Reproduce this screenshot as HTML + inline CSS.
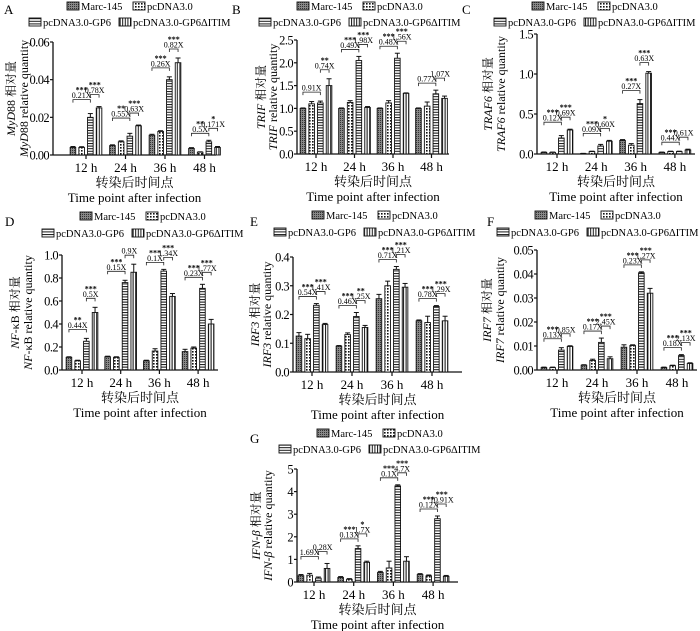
<!DOCTYPE html>
<html><head><meta charset="utf-8">
<style>
html,body{margin:0;padding:0;background:#fff;}
svg{display:block;font-family:"Liberation Serif","Noto Serif CJK SC","Noto Sans CJK SC",serif;}
</style></head>
<body>
<svg id="fig" width="700" height="631" viewBox="0 0 700 631">
<defs>
<pattern id="p0" width="2" height="2" patternUnits="userSpaceOnUse"><rect width="2" height="2" fill="#888"/><rect width="1" height="1" fill="#333"/></pattern>
<pattern id="p1" width="3" height="3" patternUnits="userSpaceOnUse"><rect width="3" height="3" fill="#fff"/><rect width="1.6" height="1.6" fill="#111"/></pattern>
<pattern id="p2" width="4" height="2.6" patternUnits="userSpaceOnUse"><rect width="4" height="2.6" fill="#fff"/><rect width="4" height="1" fill="#111"/></pattern>
<pattern id="p3" width="2.6" height="4" patternUnits="userSpaceOnUse"><rect width="2.6" height="4" fill="#fff"/><rect width="1" height="4" fill="#111"/></pattern>
</defs>
</svg>
<script>
const categories = ["12 h","24 h","36 h","48 h"];
const seriesNames = ["Marc-145","pcDNA3.0","pcDNA3.0-GP6","pcDNA3.0-GP6ΔITIM"];
// Panel A MyD88
const aMarc=[0.004,0.005,0.0105,0.0035], aPc=[0.004,0.007,0.0125,0.0015], aGp6=[0.020,0.010,0.040,0.007], aDel=[0.025,0.0155,0.049,0.004];
const aErr=[[0.0005,0.0004,0.0005,0.0004],[0.0004,0.0005,0.0004,0.0002],[0.002,0.0015,0.0015,0.0008],[0.0007,0.0004,0.0025,0.0005]];
const aTicks=[0,0.02,0.04,0.06], aTickLabels=["0.00","0.02","0.04","0.06"];
const aFold1=["0.21X","0.55X","0.26X","0.5X"], aFold2=["0.78X","0.63X","0.82X","0.171X"];
const aStar1=["***","**","***","**"], aStar2=["***","***","***","*"];
// Panel B TRIF
const bMarc=[1,1,1,1], bPc=[1.1,1.13,1.12,1.05], bGp6=[1.12,2.05,2.1,1.32], bDel=[1.5,1.02,1.33,1.22];
const bErr=[[0.01,0.01,0.01,0.01],[0.05,0.04,0.05,0.09],[0.04,0.09,0.11,0.08],[0.15,0.02,0.01,0.05]];
const bTicks=[0,0.5,1,1.5,2,2.5], bTickLabels=["0.0","0.5","1.0","1.5","2.0","2.5"];
const bFold1=["0.91X","0.49X","0.48X","0.77X"], bFold2=["0.74X","1.98X","1.56X","1.07X"];
const bStar1=["","***","***",""], bStar2=["**","***","***",""];
// Panel C TRAF6
const cMarc=[0.02,0.005,0.17,0.02], cPc=[0.02,0.03,0.11,0.03], cGp6=[0.2,0.1,0.63,0.03], cDel=[0.3,0.16,1.01,0.05];
const cErr=[[0.005,0.003,0.01,0.004],[0.004,0.005,0.02,0.005],[0.03,0.02,0.05,0.005],[0.01,0.01,0.02,0.01]];
const cTicks=[0,0.5,1,1.5], cTickLabels=["0.0","0.5","1.0","1.5"];
const cFold1=["0.12X","0.09X","0.27X","0.44X"], cFold2=["0.69X","0.60X","0.63X","0.61X"];
const cStar1=["***","***","***","***"], cStar2=["***","*","***",""];
// Panel D NF-kB
const dMarc=[0.11,0.115,0.08,0.16], dPc=[0.08,0.11,0.165,0.19], dGp6=[0.25,0.76,0.86,0.71], dDel=[0.5,0.85,0.64,0.4];
const dErr=[[0.005,0.005,0.005,0.02],[0.005,0.005,0.02,0.01],[0.025,0.02,0.015,0.035],[0.045,0.07,0.025,0.04]];
const dTicks=[0,0.2,0.4,0.6,0.8,1.0], dTickLabels=["0.0","0.2","0.4","0.6","0.8","1.0"];
const dFold1=["0.44X","0.15X","0.1X","0.23X"], dFold2=["0.5X","0.9X","1.34X","1.77X"];
const dStar1=["**","***","***","***"], dStar2=["***","","***","***"];
// Panel E IRF3
const eMarc=[0.125,0.09,0.255,0.178], ePc=[0.116,0.13,0.3,0.172], eGp6=[0.232,0.193,0.357,0.228], eDel=[0.165,0.155,0.295,0.178];
const eErr=[[0.012,0.002,0.015,0.003],[0.015,0.006,0.016,0.022],[0.006,0.014,0.01,0.003],[0.004,0.007,0.013,0.016]];
const eTicks=[0,0.1,0.2,0.3,0.4], eTickLabels=["0.0","0.1","0.2","0.3","0.4"];
const eFold1=["0.54X","0.46X","0.71X","0.78X"], eFold2=["1.41X","1.25X","1.21X","1.29X"];
const eStar1=["***","***","***","***"], eStar2=["***","**","***","***"];
// Panel F IRF7
const fMarc=[0.001,0.002,0.0095,0.001], fPc=[0.001,0.004,0.0102,0.0018], fGp6=[0.0083,0.0115,0.0405,0.006], fDel=[0.0098,0.0047,0.032,0.0027];
const fErr=[[0.0002,0.0002,0.001,0.0002],[0.0002,0.0005,0.0003,0.0002],[0.001,0.0018,0.0004,0.0004],[0.0003,0.0008,0.002,0.0003]];
const fTicks=[0,0.01,0.02,0.03,0.04,0.05], fTickLabels=["0.00","0.01","0.02","0.03","0.04","0.05"];
const fFold1=["0.13X","0.17X","0.23X","0.18X"], fFold2=["0.85X","2.45X","1.27X","2.13X"];
const fStar1=["***","***","***","***"], fStar2=["","***","***","***"];
// Panel G IFN-beta
const gMarc=[0.28,0.2,0.42,0.33], gPc=[0.3,0.12,0.62,0.27], gGp6=[0.17,1.48,4.25,2.8], gDel=[0.6,0.87,0.92,0.25];
const gErr=[[0.05,0.04,0.05,0.04],[0.08,0.03,0.3,0.04],[0.05,0.12,0.05,0.12],[0.22,0.05,0.2,0.04]];
const gTicks=[0,1,2,3,4,5], gTickLabels=["0","1","2","3","4","5"];
const gFold1=["1.69X","0.13X","0.1X","0.12X"], gFold2=["0.28X","1.7X","4.7X","10.91X"];
const gStar1=["","***","***","***"], gStar2=["","*","***","***"];

const NS="http://www.w3.org/2000/svg";
const svg=document.getElementById('fig');
function mk(tag,attrs,parent,text){const e=document.createElementNS(NS,tag);for(const k in attrs)e.setAttribute(k,attrs[k]);if(text!==undefined)e.textContent=text;(parent||svg).appendChild(e);return e;}

const panels=[
 {letter:'A',lx:4,ly:14,x0:53,x1:216,y0:155,y1:42,c0:86,step:39.5,data:[aMarc,aPc,aGp6,aDel],err:aErr,ticks:aTicks,tl:aTickLabels,f1:aFold1,f2:aFold2,s1:aStar1,s2:aStar2,gene:'MyD',gsuf:'88',L:67,r1:10,r2:26,t1x:11,t2x:24},
 {letter:'B',lx:232,ly:14,x0:297,x1:449,y0:154,y1:40,c0:316,step:38.5,data:[bMarc,bPc,bGp6,bDel],err:bErr,ticks:bTicks,tl:bTickLabels,f1:bFold1,f2:bFold2,s1:bStar1,s2:bStar2,gene:'TRIF',gsuf:'',L:297,r1:10,r2:26,t1x:261,t2x:273},
 {letter:'C',lx:462,ly:14,x0:537,x1:695,y0:154,y1:34,c0:557,step:39.3,data:[cMarc,cPc,cGp6,cDel],err:cErr,ticks:cTicks,tl:cTickLabels,f1:cFold1,f2:cFold2,s1:cStar1,s2:cStar2,gene:'TRAF6',gsuf:'',L:532,r1:10,r2:26,t1x:488,t2x:501},
 {letter:'D',lx:5,ly:226,x0:62,x1:218,y0:370,y1:255,c0:82,step:38.7,data:[dMarc,dPc,dGp6,dDel],err:dErr,ticks:dTicks,tl:dTickLabels,f1:dFold1,f2:dFold2,s1:dStar1,s2:dStar2,gene:'NF',gsuf:'-κB',L:80,r1:220,r2:237,t1x:15,t2x:28},
 {letter:'E',lx:250,ly:226,x0:293,x1:462,y0:372,y1:257,c0:312,step:40,data:[eMarc,ePc,eGp6,eDel],err:eErr,ticks:eTicks,tl:eTickLabels,f1:eFold1,f2:eFold2,s1:eStar1,s2:eStar2,gene:'IRF3',gsuf:'',L:312,r1:219,r2:236,t1x:255,t2x:267},
 {letter:'F',lx:487,ly:226,x0:537,x1:697,y0:370,y1:250,c0:557,step:40,data:[fMarc,fPc,fGp6,fDel],err:fErr,ticks:fTicks,tl:fTickLabels,f1:fFold1,f2:fFold2,s1:fStar1,s2:fStar2,gene:'IRF7',gsuf:'',L:535,r1:219,r2:236,t1x:487,t2x:500},
 {letter:'G',lx:250,ly:443,x0:297,x1:458,y0:582,y1:469,c0:314,step:39.7,data:[gMarc,gPc,gGp6,gDel],err:gErr,ticks:gTicks,tl:gTickLabels,f1:gFold1,f2:gFold2,s1:gStar1,s2:gStar2,gene:'IFN-β',gsuf:'',L:317,r1:437,r2:453,t1x:256,t2x:268}
];

const BW=5.6, PITCH=8.7;
panels.forEach(p=>{
  const g=mk('g',{});
  
  
  const vmax=p.ticks[p.ticks.length-1];
  const yS=v=>p.y0-(v/vmax)*(p.y0-p.y1);
  const xS=(gi,si)=>p.c0+gi*p.step+(si-1.5)*PITCH;
  const lt=mk('text',{x:p.lx,y:p.ly,'font-size':13},g,p.letter);
  
  
  const legPos=[[p.L,p.r1],[p.L+66,p.r1],[p.L-38,p.r2],[p.L+52,p.r2]];
  legPos.forEach((pos,i)=>{
    const le=mk('g',{},g);
    
    
    mk('rect',{x:pos[0],y:pos[1]-8,width:12,height:8,fill:'url(#p'+i+')',stroke:'#111','stroke-width':0.9},le);
    mk('text',{x:pos[0]+14,y:pos[1],'font-size':10.5},le,seriesNames[i]);
  });
  const ya=mk('line',{x1:p.x0,y1:p.y0,x2:p.x0,y2:p.y1,stroke:'#111','stroke-width':1.3},g);
  
  
  const xa=mk('line',{x1:p.x0,y1:p.y0,x2:p.x1,y2:p.y0,stroke:'#111','stroke-width':1.3},g);
  
  
  p.ticks.forEach((t,i)=>{
    const y=yS(t);
    mk('line',{x1:p.x0-3,y1:y,x2:p.x0,y2:y,stroke:'#111','stroke-width':1.2},g);
    const tx=mk('text',{x:p.x0-4,y:y+4.5,'font-size':12.5,'letter-spacing':'-0.6','text-anchor':'end'},g,p.tl[i]);
    
    
  });
  categories.forEach((c,gi)=>{
    const cx=p.c0+gi*p.step;
    mk('line',{x1:cx,y1:p.y0,x2:cx,y2:p.y0+4,stroke:'#111','stroke-width':1.2},g);
    const tx=mk('text',{x:cx,y:p.y0+17,'font-size':13,'text-anchor':'middle'},g,c);
    
    
  });
  const mid=(p.x0+p.x1)/2;
  const xt1=mk('text',{x:mid,y:p.y0+32,'font-size':13,'text-anchor':'middle'},g,'转染后时间点');
  
  
  const xt2=mk('text',{x:mid,y:p.y0+47,'font-size':13,'text-anchor':'middle'},g,'Time point after infection');
  
  
  const ym=(p.y0+p.y1)/2;
  const yt1=mk('text',{'font-size':12,'text-anchor':'middle',transform:`translate(${p.t1x+4},${ym}) rotate(-90)`},g);
  
  
  mk('tspan',{'font-style':'italic'},yt1,p.gene);
  mk('tspan',{},yt1,p.gsuf+' 相对量');
  const yt2=mk('text',{'font-size':12,'text-anchor':'middle',transform:`translate(${p.t2x+4},${ym}) rotate(-90)`},g);
  
  
  mk('tspan',{'font-style':'italic'},yt2,p.gene);
  mk('tspan',{},yt2,p.gsuf+' relative quantity');
  const tops=[];
  p.data.forEach((arr,si)=>{
    arr.forEach((v,gi)=>{
      const x=xS(gi,si)-BW/2, y=yS(v);
      const r=mk('rect',{x:x,y:y,width:BW,height:p.y0-y,fill:'url(#p'+si+')',stroke:'#111','stroke-width':0.9},g);
      
      
      const ey=yS(v+p.err[si][gi]);
      const cx=xS(gi,si);
      mk('line',{x1:cx,y1:y,x2:cx,y2:ey,stroke:'#111','stroke-width':1},g);
      mk('line',{x1:cx-2.5,y1:ey,x2:cx+2.5,y2:ey,stroke:'#111','stroke-width':1},g);
      tops[gi]=tops[gi]||[];tops[gi][si]=ey;
    });
  });
  categories.forEach((c,gi)=>{
    const t=tops[gi];
    let b1=Math.min(t[0],t[1],t[2])-9;
    let b2=Math.min(t[2],t[3])-9;
    if(Math.abs(b1-b2)<10){ b2=Math.min(b1,b2)-3; b1=b2+5; }
    const xa0=xS(gi,0),xa2=xS(gi,2),xa3=xS(gi,3);
    [[xa0,xa2,b1,p.f1[gi],p.s1[gi]],[xa2,xa3,b2,p.f2[gi],p.s2[gi]]].forEach(([xa,xb,by,lab,st])=>{
      const an=mk('g',{},g);
      
      
      mk('path',{d:`M${xa},${by+3}V${by}H${xb}V${by+3}`,fill:'none',stroke:'#222','stroke-width':0.8},an);
      const tx=(xa+xb)/2;
      mk('text',{x:tx,y:by-1.5,'font-size':8,'text-anchor':'middle'},an,lab);
      if(st) mk('text',{x:tx,y:by-7,'font-size':8,'text-anchor':'middle','font-weight':'bold'},an,st);
    });
  });
});
</script>
</body></html>
